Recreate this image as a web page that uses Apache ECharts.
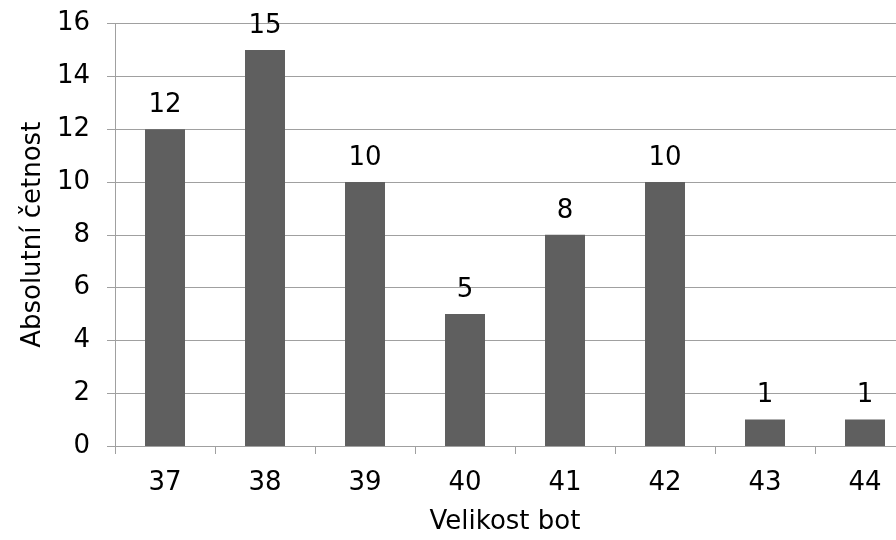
<!DOCTYPE html>
<html>
<head>
<meta charset="utf-8">
<script src="https://cdn.jsdelivr.net/npm/echarts@6/dist/echarts.min.js"></script>
<style>
html,body{margin:0;padding:0;background:#fff;}
#chart{width:896px;height:540px;}
</style>
</head>
<body>
<div id="chart"></div>
<script>
// Shoe sizes and how many people wear each one
const sizes = ['37', '38', '39', '40', '41', '42', '43', '44'];
const counts = [12, 15, 10, 5, 8, 10, 1, 1];
const yTicks = { min: 0, max: 16, step: 2 };

const font = 'DejaVu Sans, Verdana, sans-serif';
const fs = 26;
const chart = echarts.init(document.getElementById('chart'), null, { renderer: 'canvas' });

chart.setOption({
  animation: false,
  backgroundColor: '#ffffff',
  grid: {
    left: 115, top: 23.5, width: 800, bottom: 94,
    containLabel: false, outerBoundsMode: 'none'
  },
  xAxis: {
    type: 'category',
    data: sizes,
    name: 'Velikost bot',
    nameLocation: 'middle',
    nameGap: 63,
    // the last band runs past the right edge; keep the title centred on the visible part
    nameTextStyle: { fontFamily: font, fontSize: fs, color: '#000', padding: [0, 20, 0, 0] },
    axisLine: { show: true, lineStyle: { color: '#a0a0a0', width: 1 } },
    axisTick: { show: true, alignWithLabel: false, length: 8, lineStyle: { color: '#a0a0a0' } },
    axisLabel: { fontFamily: font, fontSize: fs, color: '#000', margin: 24 },
    splitLine: { show: false }
  },
  yAxis: {
    type: 'value',
    min: yTicks.min,
    max: yTicks.max,
    interval: yTicks.step,
    name: 'Absolutní četnost',
    nameLocation: 'middle',
    nameGap: 68,
    nameRotate: 90,
    nameTextStyle: { fontFamily: font, fontSize: fs, color: '#000' },
    axisLine: { show: true, lineStyle: { color: '#a0a0a0', width: 1 } },
    axisTick: { show: true, length: 8, lineStyle: { color: '#a0a0a0' } },
    axisLabel: { fontFamily: font, fontSize: fs, color: '#000', margin: 25 },
    splitLine: { show: true, lineStyle: { color: '#a0a0a0', width: 1 } }
  },
  series: [{
    type: 'bar',
    data: counts,
    barWidth: '40%',
    itemStyle: { color: '#5f5f5f' },
    label: {
      show: true,
      position: 'top',
      distance: 11,
      fontFamily: font,
      fontSize: fs,
      color: '#000'
    }
  }]
});
</script>
</body>
</html>
